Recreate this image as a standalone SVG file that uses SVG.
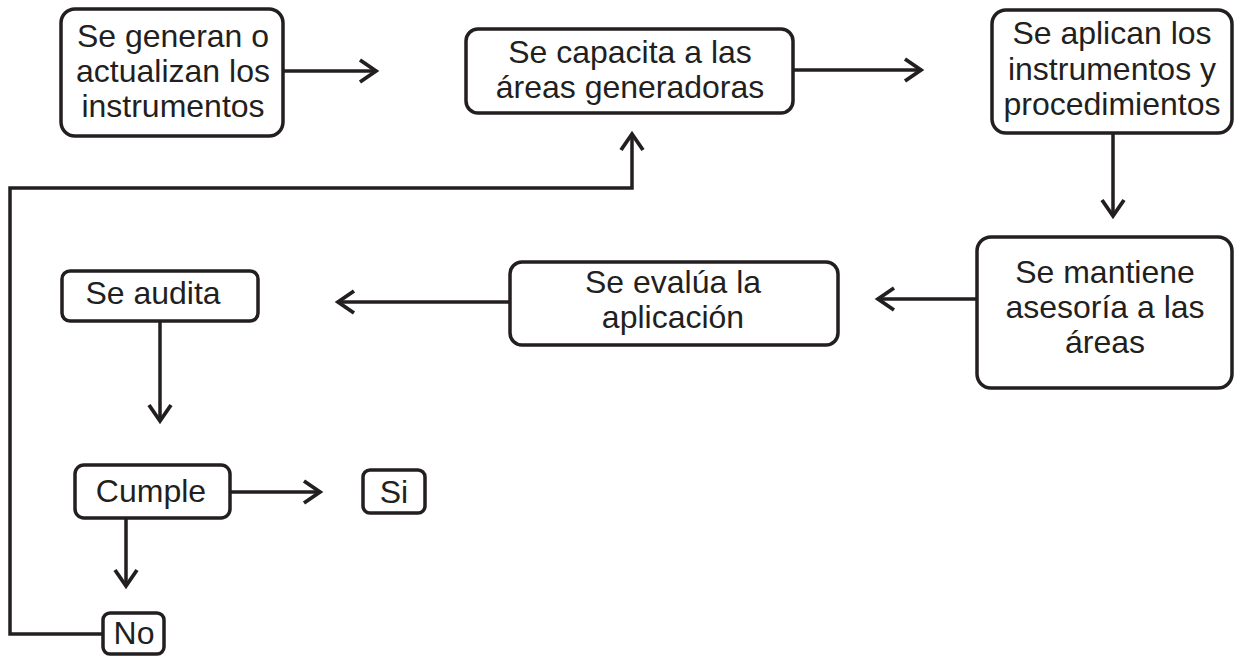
<svg xmlns="http://www.w3.org/2000/svg" width="1234" height="656" viewBox="0 0 1234 656">
<defs>
<style>
.box{fill:#fff;stroke:#231f20;stroke-width:3.5}
.t{font-family:"Liberation Sans",Arial,sans-serif;font-size:32px;fill:#231f20;text-anchor:middle}
.c{fill:none;stroke:#231f20;stroke-width:3.5}
</style>
<marker id="ah" markerUnits="userSpaceOnUse" markerWidth="40" markerHeight="40" viewBox="-20 -20 40 40" refX="0" refY="0" orient="auto">
<path d="M-16,-11 L0,0 L-16,11" fill="none" stroke="#231f20" stroke-width="3.8" stroke-linejoin="miter"/>
</marker>
</defs>
<rect width="1234" height="656" fill="#fff"/>
<g id="connectors">
<line class="c" x1="283" y1="71" x2="376" y2="71" marker-end="url(#ah)"/>
<line class="c" x1="793" y1="70" x2="921" y2="70" marker-end="url(#ah)"/>
<line class="c" x1="1113" y1="133" x2="1113" y2="216" marker-end="url(#ah)"/>
<line class="c" x1="977" y1="299" x2="878" y2="299" marker-end="url(#ah)"/>
<line class="c" x1="510" y1="302" x2="338" y2="302" marker-end="url(#ah)"/>
<line class="c" x1="160" y1="321" x2="160" y2="421" marker-end="url(#ah)"/>
<line class="c" x1="230" y1="492" x2="320" y2="492" marker-end="url(#ah)"/>
<line class="c" x1="126" y1="518" x2="126" y2="586" marker-end="url(#ah)"/>
<polyline class="c" points="103,634 10,634 10,188 632,188 632,134" marker-end="url(#ah)"/>
</g>
<g id="n1">
<rect class="box" x="61" y="9" width="222" height="127" rx="14"/>
<text class="t" x="173" y="47">Se generan o</text>
<text class="t" x="173" y="82">actualizan los</text>
<text class="t" x="173" y="117">instrumentos</text>
</g>
<g id="n2">
<rect class="box" x="466" y="29" width="327" height="84" rx="12"/>
<text class="t" x="630" y="63">Se capacita a las</text>
<text class="t" x="630" y="98">áreas generadoras</text>
</g>
<g id="n3">
<rect class="box" x="992" y="10" width="240" height="123" rx="14"/>
<text class="t" x="1112" y="44">Se aplican los</text>
<text class="t" x="1112" y="80">instrumentos y</text>
<text class="t" x="1112" y="115">procedimientos</text>
</g>
<g id="n4">
<rect class="box" x="977" y="237" width="255" height="151" rx="14"/>
<text class="t" x="1105" y="283">Se mantiene</text>
<text class="t" x="1105" y="318">asesoría a las</text>
<text class="t" x="1105" y="353">áreas</text>
</g>
<g id="n5">
<rect class="box" x="510" y="262" width="328" height="83" rx="12"/>
<text class="t" x="673" y="293">Se evalúa la</text>
<text class="t" x="673" y="328">aplicación</text>
</g>
<g id="n6">
<rect class="box" x="62" y="271" width="196" height="50" rx="8"/>
<text class="t" x="153" y="304">Se audita</text>
</g>
<g id="n7">
<rect class="box" x="75" y="465" width="155" height="53" rx="9"/>
<text class="t" x="151" y="502">Cumple</text>
</g>
<g id="n8">
<rect class="box" x="363" y="470" width="62" height="43" rx="7"/>
<text class="t" x="394" y="503">Si</text>
</g>
<g id="n9">
<rect class="box" x="103" y="613" width="61" height="41" rx="7"/>
<text class="t" x="134" y="644">No</text>
</g>
</svg>
